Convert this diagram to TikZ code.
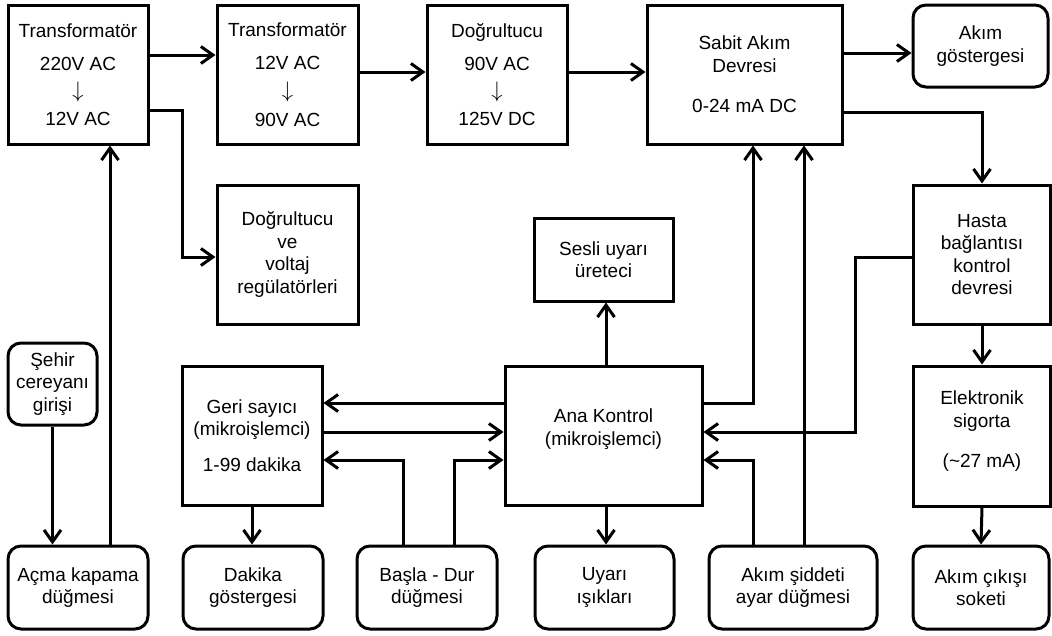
\documentclass[tikz,border=0pt]{standalone}
\usepackage{graphicx}
\usepackage{fontspec}
\setmainfont{Liberation Sans}
\usetikzlibrary{arrows.meta}
\newcommand{\darr}{\scalebox{1.3}[1.3]{\(\downarrow\)}}
\begin{document}
\begin{tikzpicture}[x=1pt,y=-1pt,
  box/.style={draw, line width=3pt, align=center, inner sep=0pt, font=\fontsize{19}{22.5}\selectfont},
  rbox/.style={box, rounded corners=13pt},
  arr/.style={line width=3pt, -{Straight Barb[length=12pt,width=17pt]}}]
\useasboundingbox (0,0) rectangle (1052,635);
% lanes
\coordinate (h53) at (0,53);
\coordinate (h55) at (0,55);
\coordinate (h72) at (0,72);
\coordinate (h110) at (0,110);
\coordinate (h112) at (0,112);
\coordinate (h257) at (0,257);
\coordinate (h403) at (0,403);
\coordinate (h432) at (0,432);
\coordinate (h460) at (0,460);
\coordinate (v110) at (110,0);
\coordinate (v182) at (182,0);
\coordinate (v403) at (403,0);
\coordinate (v454) at (454,0);
\coordinate (v607) at (606,0);
\coordinate (v753) at (753,0);
\coordinate (v804) at (804,0);
\coordinate (v855) at (855,0);
% top row
\node[box, minimum width=140pt, minimum height=139pt] (t1) at (78,74.5)
  {Transformatör\\[10pt]220V AC\\[5pt]\darr\\[5pt]12V AC};
\node[box, minimum width=141pt, minimum height=139pt] (t2) at (287.5,74.5)
  {Transformatör\\[10pt]12V AC\\[6pt]\darr\\[6pt]90V AC};
\node[box, minimum width=140pt, minimum height=139pt] (d1) at (497,74.5)
  {Doğrultucu\\[10pt]90V AC\\[5pt]\darr\\[5pt]125V DC};
\node[box, minimum width=195pt, minimum height=139pt] (s) at (744.5,74.5)
  {Sabit Akım\\Devresi\\[18pt]0-24 mA DC};
\node[rbox, minimum width=135pt, minimum height=82pt] (ag) at (980.5,46)
  {Akım\\göstergesi};
% middle
\node[box, minimum width=141pt, minimum height=139pt] (dvr) at (287.5,254.5)
  {Doğrultucu\\ve\\voltaj\\regülatörleri};
\node[rbox, minimum width=89pt, minimum height=82pt] (sehir) at (52.5,384)
  {Şehir\\cereyanı\\girişi};
\node[box, minimum width=140pt, minimum height=139pt] (geri) at (252,435.5)
  {Geri sayıcı\\(mikroişlemci)\\[13pt]1-99 dakika};
\node[box, minimum width=139pt, minimum height=83pt] (sesli) at (603.5,259.5)
  {Sesli uyarı\\üreteci};
\node[box, minimum width=197pt, minimum height=139pt] (ana) at (603.5,435.5)
  {Ana Kontrol\\(mikroişlemci)\\[-6pt]\mbox{}};
\node[box, minimum width=137pt, minimum height=139pt] (hasta) at (982,254.5)
  {Hasta\\bağlantısı\\kontrol\\devresi};
\node[box, minimum width=137pt, minimum height=140pt] (elek) at (982,436)
  {Elektronik\\[1pt]sigorta\\[17pt](\textasciitilde27 mA)\\[-8pt]\mbox{}};
% bottom row
\node[rbox, minimum width=140pt, minimum height=83pt] (acma) at (78,587.5)
  {Açma kapama\\düğmesi};
\node[rbox, minimum width=140pt, minimum height=83pt] (dak) at (253,587.5)
  {Dakika\\göstergesi};
\node[rbox, minimum width=140pt, minimum height=83pt] (basla) at (427,587.5)
  {Başla - Dur\\düğmesi};
\node[rbox, minimum width=139pt, minimum height=83pt] (uyari) at (604.5,587.5)
  {Uyarı\\ışıkları};
\node[rbox, minimum width=168pt, minimum height=83pt] (akim) at (793,587.5)
  {Akım şiddeti\\ayar düğmesi};
\node[rbox, minimum width=136pt, minimum height=83pt] (cikis) at (981,587.5)
  {Akım çıkışı\\soketi};
% connectors
\draw[arr] (t1.east |- h55) -- (t2.west |- h55);
\draw[arr] (t2.east |- h72) -- (d1.west |- h72);
\draw[arr] (d1.east |- h72) -- (s.west |- h72);
\draw[arr] (s.east |- h53) -- (ag.west |- h53);
\draw[arr] (s.east |- h112) -| (hasta.north);
\draw[arr] (t1.east |- h110) -| (v182 |- h257) -- (dvr.west |- h257);
\draw[arr] (sehir.south) -- (sehir.south |- acma.north);
\draw[arr] (acma.north -| v110) -- (t1.south -| v110);
\draw[arr] (ana.west |- h403) -- (geri.east |- h403);
\draw[arr] (geri.east |- h432) -- (ana.west |- h432);
\draw[arr] (basla.north -| v403) |- (geri.east |- h460);
\draw[arr] (basla.north -| v454) |- (ana.west |- h460);
\draw[arr] (geri.south) -- (geri.south |- dak.north);
\draw[arr] (ana.north -| v607) -- (sesli.south -| v607);
\draw[arr] (ana.south -| v607) -- (uyari.north -| v607);
\draw[arr] (ana.east |- h403) -| (s.south -| v753);
\draw[arr] (hasta.west |- h257) -| (v855 |- h432) -- (ana.east |- h432);
\draw[arr] (akim.north -| v753) |- (ana.east |- h460);
\draw[arr] (akim.north -| v804) -- (s.south -| v804);
\draw[arr] (hasta.south) -- (elek.north);
\draw[arr] (elek.south) -- (cikis.north);
\end{tikzpicture}
\end{document}
